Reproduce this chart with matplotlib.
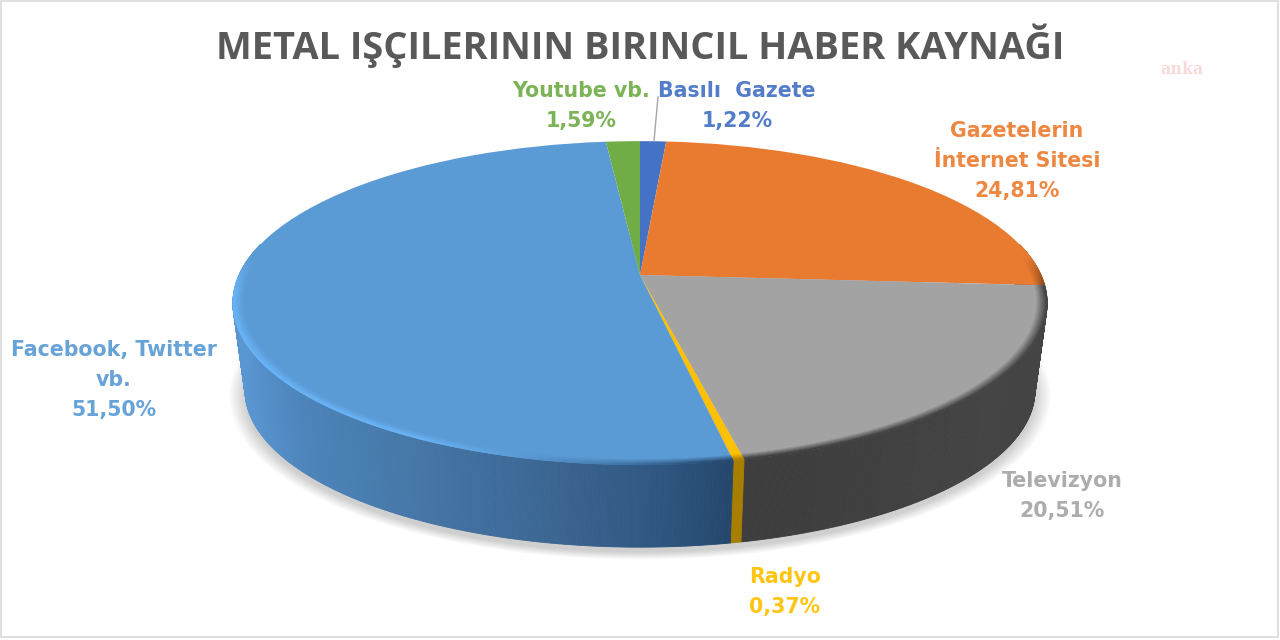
import numpy as np
import matplotlib
matplotlib.use("Agg")
import matplotlib.pyplot as plt
from matplotlib.collections import PolyCollection
from matplotlib.colors import to_rgb
from matplotlib.patches import Rectangle
from matplotlib.transforms import Transform

title = "METAL IŞÇILERININ BIRINCIL HABER KAYNAĞI"
categories = ["Basılı  Gazete", "Gazetelerin\nİnternet Sitesi", "Televizyon", "Radyo",
              "Facebook, Twitter\nvb.", "Youtube vb."]
values = [1.22, 24.81, 20.51, 0.37, 51.50, 1.59]
top_colors = ["#4472C4", "#E97B30", "#A3A3A3", "#FFC000", "#5B9BD5", "#70AD47"]
label_colors = ["#4472C4", "#ED7D31", "#A5A5A5", "#FFC000", "#5B9BD5", "#70AD47"]
label_centers = [(737, 91), (1017, 131), (1062, 481), (785, 577), (114, 350), (581, 91)]

FONT = "DejaVu Sans"
CX, CY, A, B, K = 640.0, 275.0, 401.0, 157.0, 0.173
DEPTH_SCALE, DEPTH = 0.97, 88.0
BEVEL = 0.024


def project(x, y):
    w = 1 + K * y
    return CX + A * x / w, CY - B * y / w


class TiltTransform(Transform):
    input_dims = output_dims = 2
    has_inverse = False

    def transform_non_affine(self, values):
        v = np.asarray(values, dtype=float)
        return np.column_stack(project(v[:, 0], v[:, 1]))


def mix(c1, c2, u):
    c1, c2 = np.array(to_rgb(c1)), np.array(to_rgb(c2))
    return tuple(c1 + (c2 - c1) * u)


def blue_side(x):
    xs = [235, 300, 420, 560, 660, 735]
    cs = np.array([to_rgb(c) for c in ["#5A97D2", "#4C84BA", "#4576A6", "#3A6591", "#2E5680", "#25466B"]])
    return tuple(np.interp(x, xs, cs[:, i]) for i in range(3))


def side_color(i, x):
    if i == 4:
        return blue_side(x)
    if i == 3:
        return to_rgb("#A87E00")
    if i == 2:
        return mix("#444444", "#3E3E3E", np.clip((1000 - x) / 200, 0, 1))
    return mix(top_colors[i], "#000000", 0.45)


fig = plt.figure(figsize=(12.8, 6.4), dpi=100, facecolor="white")
ax = fig.add_axes([0, 0, 1, 1])
tilt = TiltTransform() + ax.transData

wedges, _ = ax.pie(values, colors=top_colors, startangle=90, counterclock=False,
                   radius=1.0, center=(0, 0), frame=False,
                   wedgeprops=dict(linewidth=0, zorder=5))
for w in wedges:
    w.set_transform(tilt)
    w.set_clip_on(False)

ax.set_aspect("auto")
ax.set_xlim(0, 1280)
ax.set_ylim(640, 0)
ax.axis("off")

# soft shadow under the disc
tt = np.linspace(0, 2 * np.pi, 400)
for n in range(24):
    sx, sy = project(np.cos(tt), np.sin(tt))
    g = 1 + 0.0018 * n
    px = CX + (sx - CX) * DEPTH_SCALE * g
    py = CY + (sy - CY) * DEPTH_SCALE * g + DEPTH + 5
    ax.fill(px, py, color="#000000", alpha=0.007, lw=0, zorder=1)

# side wall and bevel per slice, angles taken from the values
cum = np.concatenate([[0], np.cumsum(values)]) / np.sum(values) * 2 * np.pi
side_polys, side_cols, bev_polys, bev_cols = [], [], [], []
for i in range(len(values)):
    n = max(3, int((cum[i + 1] - cum[i]) / 0.006))
    th = np.linspace(cum[i], cum[i + 1], n + 1)
    for a0, a1 in zip(th[:-1], th[1:]):
        am = (a0 + a1) / 2
        if np.cos(am) > 0.2:
            continue
        x0, y0 = project(np.sin(a0), np.cos(a0))
        x1, y1 = project(np.sin(a1), np.cos(a1))
        b0 = (CX + (x0 - CX) * DEPTH_SCALE, CY + (y0 - CY) * DEPTH_SCALE + DEPTH)
        b1 = (CX + (x1 - CX) * DEPTH_SCALE, CY + (y1 - CY) * DEPTH_SCALE + DEPTH)
        xm = (x0 + x1) / 2
        side_polys.append([(x0, y0), (x1, y1), b1, b0])
        side_cols.append(side_color(i, xm))
        # bevel: radial steps from the flat top to the rim
        fade = np.clip((0.12 - np.cos(am)) / 0.2, 0, 1)
        if i == 4:
            w_hi = np.clip((700 - xm) / 280, 0, 1)
            edge = mix(blue_side(xm), "#69B4F7", w_hi)
        else:
            edge = side_color(i, xm)
        edge = mix(top_colors[i], edge, fade)
        steps = 6
        for s in range(steps):
            r0 = 1 - BEVEL * (1 - s / steps)
            r1 = 1 - BEVEL * (1 - (s + 1) / steps)
            pts = [project(r0 * np.sin(a0), r0 * np.cos(a0)), project(r0 * np.sin(a1), r0 * np.cos(a1)),
                   project(r1 * np.sin(a1), r1 * np.cos(a1)), project(r1 * np.sin(a0), r1 * np.cos(a0))]
            bev_polys.append(pts)
            bev_cols.append(mix(top_colors[i], edge, (s + 1) / steps))

ax.add_collection(PolyCollection(side_polys, facecolors=side_cols, edgecolors=side_cols, linewidths=0.6, zorder=2))
ax.add_collection(PolyCollection(bev_polys, facecolors=bev_cols, edgecolors=bev_cols, linewidths=0.4, zorder=6))

# labels
for name, v, c, (lx, ly) in zip(categories, values, label_colors, label_centers):
    lines = name.split("\n") + [f"{v:.2f}".replace(".", ",") + "%"]
    for k, line in enumerate(lines):
        ax.text(lx, ly + 30 * k, line, color=c, fontsize=14.8, fontweight="bold", family=FONT,
                ha="center", va="center", zorder=8, alpha=0.92)

ax.plot([658, 654], [97, 141], color="#A6A6A6", lw=1, zorder=7)
ax.text(640, 46, title, color="#595959", fontsize=27.4, fontweight="bold", family="Open Sans",
        ha="center", va="center", zorder=8)
ax.text(1182, 70, "anka", color="#F9DADA", fontsize=11.5, fontweight="bold", family="DejaVu Serif",
        ha="center", va="center", zorder=8)
ax.add_patch(Rectangle((0.5, 0.5), 1277.5, 636.5, fill=False, ec="#D9D9D9", lw=1.2, zorder=9))

fig.savefig("out.png", dpi=100)
